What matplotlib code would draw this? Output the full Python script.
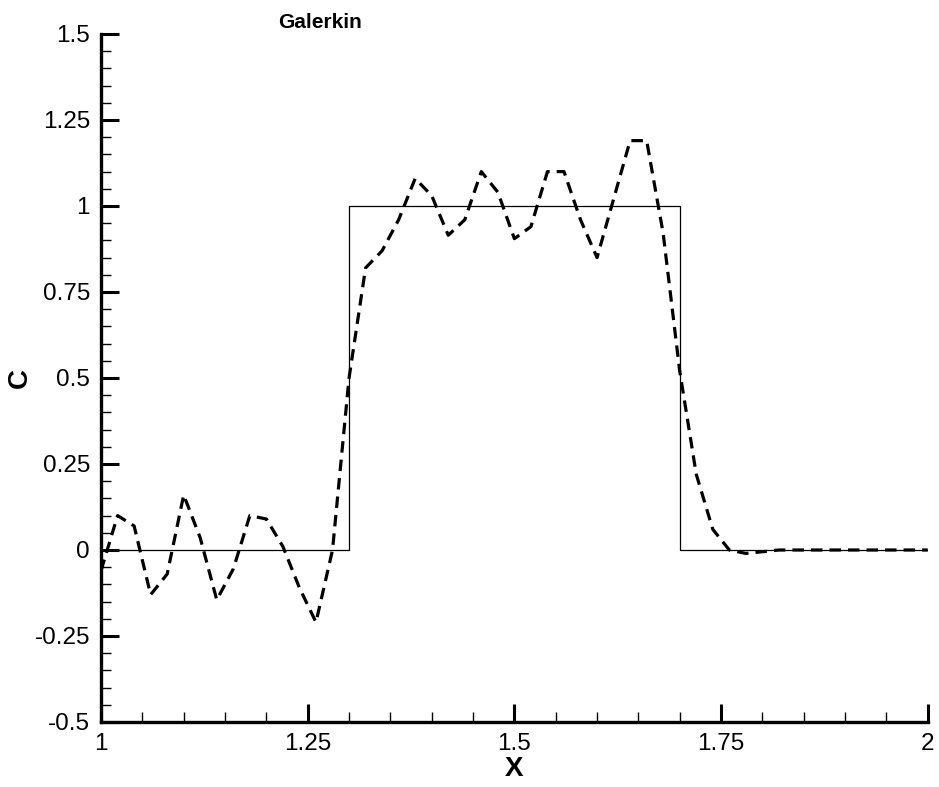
import matplotlib
matplotlib.use("Agg")
import matplotlib.pyplot as plt
import numpy as np
from matplotlib.ticker import MultipleLocator

plt.rcParams["font.family"] = ["Liberation Sans", "DejaVu Sans"]
plt.rcParams["axes.unicode_minus"] = False

# exact solution (square pulse)
exact_x = [1.0, 1.3, 1.3, 1.7, 1.7, 2.0]
exact_c = [0.0, 0.0, 1.0, 1.0, 0.0, 0.0]

# Galerkin solution
galerkin_x = [
    1.00, 1.02, 1.04, 1.06, 1.08, 1.10, 1.12, 1.14, 1.16, 1.18,
    1.20, 1.22, 1.24, 1.26, 1.28, 1.30, 1.32, 1.34, 1.36, 1.38,
    1.40, 1.42, 1.44, 1.46, 1.48, 1.50, 1.52, 1.54, 1.56, 1.58,
    1.60, 1.62, 1.64, 1.66, 1.68, 1.70, 1.72, 1.74, 1.76, 1.78,
    1.80, 1.82, 1.84, 1.86, 1.88, 1.90, 1.92, 1.94, 1.96, 1.98,
    2.00,
]
galerkin_c = [
    -0.06, 0.10, 0.07, -0.13, -0.07, 0.16, 0.035, -0.145, -0.055, 0.10,
    0.09, 0.01, -0.11, -0.21, 0.00, 0.50, 0.82, 0.87, 0.96, 1.08,
    1.03, 0.915, 0.96, 1.10, 1.04, 0.905, 0.94, 1.10, 1.10, 0.96,
    0.85, 1.02, 1.19, 1.19, 0.92, 0.52, 0.22, 0.06, 0.00, -0.01,
    -0.005, 0.0, 0.0, 0.0, 0.0, 0.0, 0.0, 0.0, 0.0, 0.0,
    0.0,
]

fig = plt.figure(figsize=(9.39, 7.87), dpi=100)
ax = fig.add_axes([0.1076, 0.0826, 0.8804, 0.8742])

ax.plot(exact_x, exact_c, color="black", linewidth=0.9)
ax.plot(
    galerkin_x,
    galerkin_c,
    color="black",
    linewidth=2.3,
    linestyle=(0, (3.6, 2.2))
)

ax.set_xlim(1, 2)
ax.set_ylim(-0.5, 1.5)

ax.xaxis.set_major_locator(MultipleLocator(0.25))
ax.xaxis.set_minor_locator(MultipleLocator(0.05))
ax.yaxis.set_major_locator(MultipleLocator(0.25))
ax.yaxis.set_minor_locator(MultipleLocator(0.05))

ax.xaxis.set_major_formatter(lambda v, p: "%g" % v)
ax.yaxis.set_major_formatter(lambda v, p: "%g" % v)

for side in ["top", "right"]:
    ax.spines[side].set_visible(False)
for side in ["left", "bottom"]:
    ax.spines[side].set_linewidth(2.4)

ax.tick_params(which="major", direction="in", length=13, width=2.2,
               labelsize=17.5, pad=8)
ax.tick_params(which="minor", direction="in", length=7, width=1.0)

ax.set_xlabel("X", fontsize=20, fontweight="bold")
ax.set_ylabel("C", fontsize=20, fontweight="bold")
ax.xaxis.set_label_coords(0.5, -0.05)
ax.yaxis.set_label_coords(-0.082, 0.5)

fig.text(0.341, 0.972, "Galerkin", fontsize=15, fontweight="bold",
         ha="center", va="center")

fig.savefig("out.png", dpi=100)
plt.close(fig)
